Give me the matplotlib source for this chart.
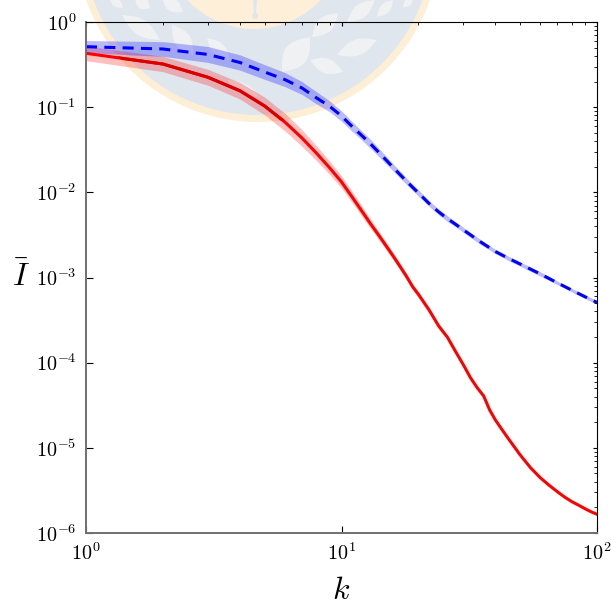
import matplotlib
matplotlib.use("Agg")
import numpy as np
import matplotlib.pyplot as plt
from matplotlib.patches import Circle, Polygon
from matplotlib.ticker import LogLocator, NullFormatter

plt.rcParams["mathtext.fontset"] = "cm"
plt.rcParams["font.family"] = "serif"

# Values
k_blue = [1, 2, 3, 4, 5, 6, 7, 8, 9, 10, 11, 12, 13, 14, 15, 16, 17, 18, 19, 20,
          22, 24, 26, 28, 30, 35, 40, 45, 50, 60, 70, 80, 90, 100]
I_blue = [.513, .482, .416, .335, .259, .211, .168, .128, .102, .0788, .0594, .0465,
          .0370, .0294, .0237, .0193, .0160, .01343, .01142, .00984,
          .00741, .00589, .00490, .00420, .00362, .00262, .00202, .00168,
          .00144, .00110, .000865, .000706, .000592, .000510]
# band size as a factor on the curve
blue_band = [1.18, 1.22, 1.24, 1.23, 1.22, 1.21, 1.19, 1.18, 1.16, 1.15, 1.14, 1.13,
             1.13, 1.12, 1.11, 1.10, 1.10, 1.09, 1.09, 1.09,
             1.08, 1.08, 1.08, 1.07, 1.07, 1.07, 1.06, 1.06,
             1.06, 1.06, 1.05, 1.05, 1.05, 1.05]

k_red = [1, 2, 3, 4, 5, 6, 7, 8, 9, 10, 11, 12, 13, 14, 15, 16, 17, 18, 19, 20,
         22, 24, 26, 28, 30, 32, 34, 36, 38, 40, 42, 45, 50, 55, 60, 65, 70, 75, 80, 85, 90, 95, 100]
I_red = [.429, .321, .2244, .156, .1033, .0670, .0435, .0286, .0193, .01325, .00883, .00605,
         .00426, .00312, .00232, .00175, .00133, .00102, .000776, .000634,
         .000417, .000270, .000198, .000134, 9.42e-5, 6.63e-5, 5.06e-5, 4.07e-5,
         2.79e-5, 2.13e-5, 1.72e-5, 1.28e-5, 8.28e-6, 5.82e-6, 4.45e-6, 3.63e-6,
         3.05e-6, 2.62e-6, 2.32e-6, 2.11e-6, 1.92e-6, 1.77e-6, 1.66e-6]
red_band = [1.22, 1.23, 1.24, 1.25, 1.27, 1.27, 1.25, 1.22, 1.20, 1.18, 1.16, 1.15,
            1.13, 1.12, 1.11, 1.10, 1.09, 1.09, 1.08, 1.08,
            1.07, 1.06, 1.05, 1.04, 1.03, 1.03, 1.02, 1.02,
            1.01, 1.01, 1.01, 1.01, 1.0, 1.0, 1.0, 1.0, 1.0, 1.0, 1.0, 1.0, 1.0, 1.0, 1.0]

x_tick_vals = [1, 10, 100]
x_tick_text = ["$10^{0}$", "$10^{1}$", "$10^{2}$"]
y_tick_vals = [1e-6, 1e-5, 1e-4, 1e-3, 1e-2, 1e-1, 1]
y_tick_text = ["$10^{-6}$", "$10^{-5}$", "$10^{-4}$", "$10^{-3}$",
               "$10^{-2}$", "$10^{-1}$", "$10^{0}$"]


def leaf(p0, p1, width):
    # pointed leaf between two tips, in pixels
    p0 = np.array(p0, dtype=float)
    p1 = np.array(p1, dtype=float)
    t = np.linspace(0, 1, 16)
    d = p1 - p0
    n = np.array([-d[1], d[0]]) / np.hypot(d[0], d[1])
    bulge = width / 2 * np.sin(np.pi * t)
    top = p0 + np.outer(t, d) + np.outer(bulge, n)
    bot = p0 + np.outer(t, d) - np.outer(bulge, n)
    return Polygon(np.vstack([top, bot[::-1]]), fc="#eff1f3", ec="none")


fig = plt.figure(figsize=(6.11, 6.06), dpi=100)

# Faded logo behind the chart, in pixel coordinates of the figure
logo = fig.add_axes([0, 0, 1, 1])
logo.set_xlim(0, 611)
logo.set_ylim(606, 0)
logo.axis("off")
rim = Circle((258, -60), 182, fc="#fdeed6", ec="none")
logo.add_patch(rim)
logo.add_patch(Circle((258, -60), 175, fc="#dfe6ee", ec="none"))
logo.add_patch(Circle((254, -62), 91, fc="#feefd8", ec="none"))
logo.add_patch(Circle((255, 16), 3, fc="#dfe6ee", ec="none"))
logo.add_patch(Polygon([(253, 0), (257, 0), (256, 14), (254, 14)], fc="#dfe6ee", ec="none"))
leaves = [((122, 15), (160, 40), 16), ((172, 25), (193, 55), 16), ((207, 38), (230, 60), 13),
          ((227, 80), (260, 97), 10), ((282, 72), (310, 37), 24), ((312, 37), (338, 13), 16),
          ((310, 60), (343, 72), 15), ((337, 55), (377, 40), 16), ((347, 22), (375, 0), 14),
          ((377, 17), (393, 0), 10), ((403, 7), (413, -2), 7), ((110, -2), (123, 8), 8),
          ((135, -2), (150, 8), 12), ((162, -2), (183, 12), 13)]
for p0, p1, w in leaves:
    logo.add_patch(leaf(p0, p1, w))

ax = fig.add_axes([86 / 611, 1 - 533 / 606, 511 / 611, 511 / 606])
ax.patch.set_alpha(0)

ax.fill_between(k_red, np.array(I_red) / np.array(red_band), np.array(I_red) * np.array(red_band),
                color="red", alpha=0.25, lw=0)
ax.fill_between(k_blue, np.array(I_blue) / np.array(blue_band), np.array(I_blue) * np.array(blue_band),
                color="blue", alpha=0.27, lw=0)
ax.plot(k_red, I_red, color="red", lw=2.2)
# the logo tints the red line where they overlap
dark, = ax.plot(k_red, I_red, color="#d80000", lw=2.2)
dark.set_clip_path(Circle((258, -60), 182, transform=logo.transData))
ax.plot(k_blue, I_blue, color="blue", lw=2.2, ls=(0, (3.6, 2.4)))

ax.set_xscale("log")
ax.set_yscale("log")
ax.set_xlim(1, 100)
ax.set_ylim(1e-6, 1)

ax.set_xticks(x_tick_vals)
ax.set_xticklabels(x_tick_text)
ax.set_yticks(y_tick_vals)
ax.set_yticklabels(y_tick_text)
for axis in [ax.xaxis, ax.yaxis]:
    axis.set_minor_locator(LogLocator(base=10, subs=range(2, 10), numticks=12))
    axis.set_minor_formatter(NullFormatter())

ax.tick_params(which="major", direction="in", length=5, width=0.8, labelsize=14.5, pad=7,
               top=True, right=True)
ax.tick_params(which="minor", direction="in", length=2.2, width=0.6,
               bottom=False, left=False, top=True, right=True)
for t in ax.xaxis.get_major_ticks() + ax.yaxis.get_major_ticks():
    t.tick2line.set_markersize(3)

ax.spines["left"].set_color("#707070")
ax.spines["bottom"].set_color("#707070")
ax.spines["left"].set_linewidth(1.4)
ax.spines["bottom"].set_linewidth(1.4)
ax.spines["top"].set_linewidth(0.8)
ax.spines["right"].set_linewidth(0.8)

ax.set_xlabel("$k$", fontsize=23, va="center")
ax.xaxis.set_label_coords(0.5, -0.112)
ax.set_ylabel(r"$\bar{I}$", fontsize=23, rotation=0, va="center", ha="center")
ax.yaxis.set_label_coords(-0.128, 0.5)

fig.savefig("out.png", dpi=100)
